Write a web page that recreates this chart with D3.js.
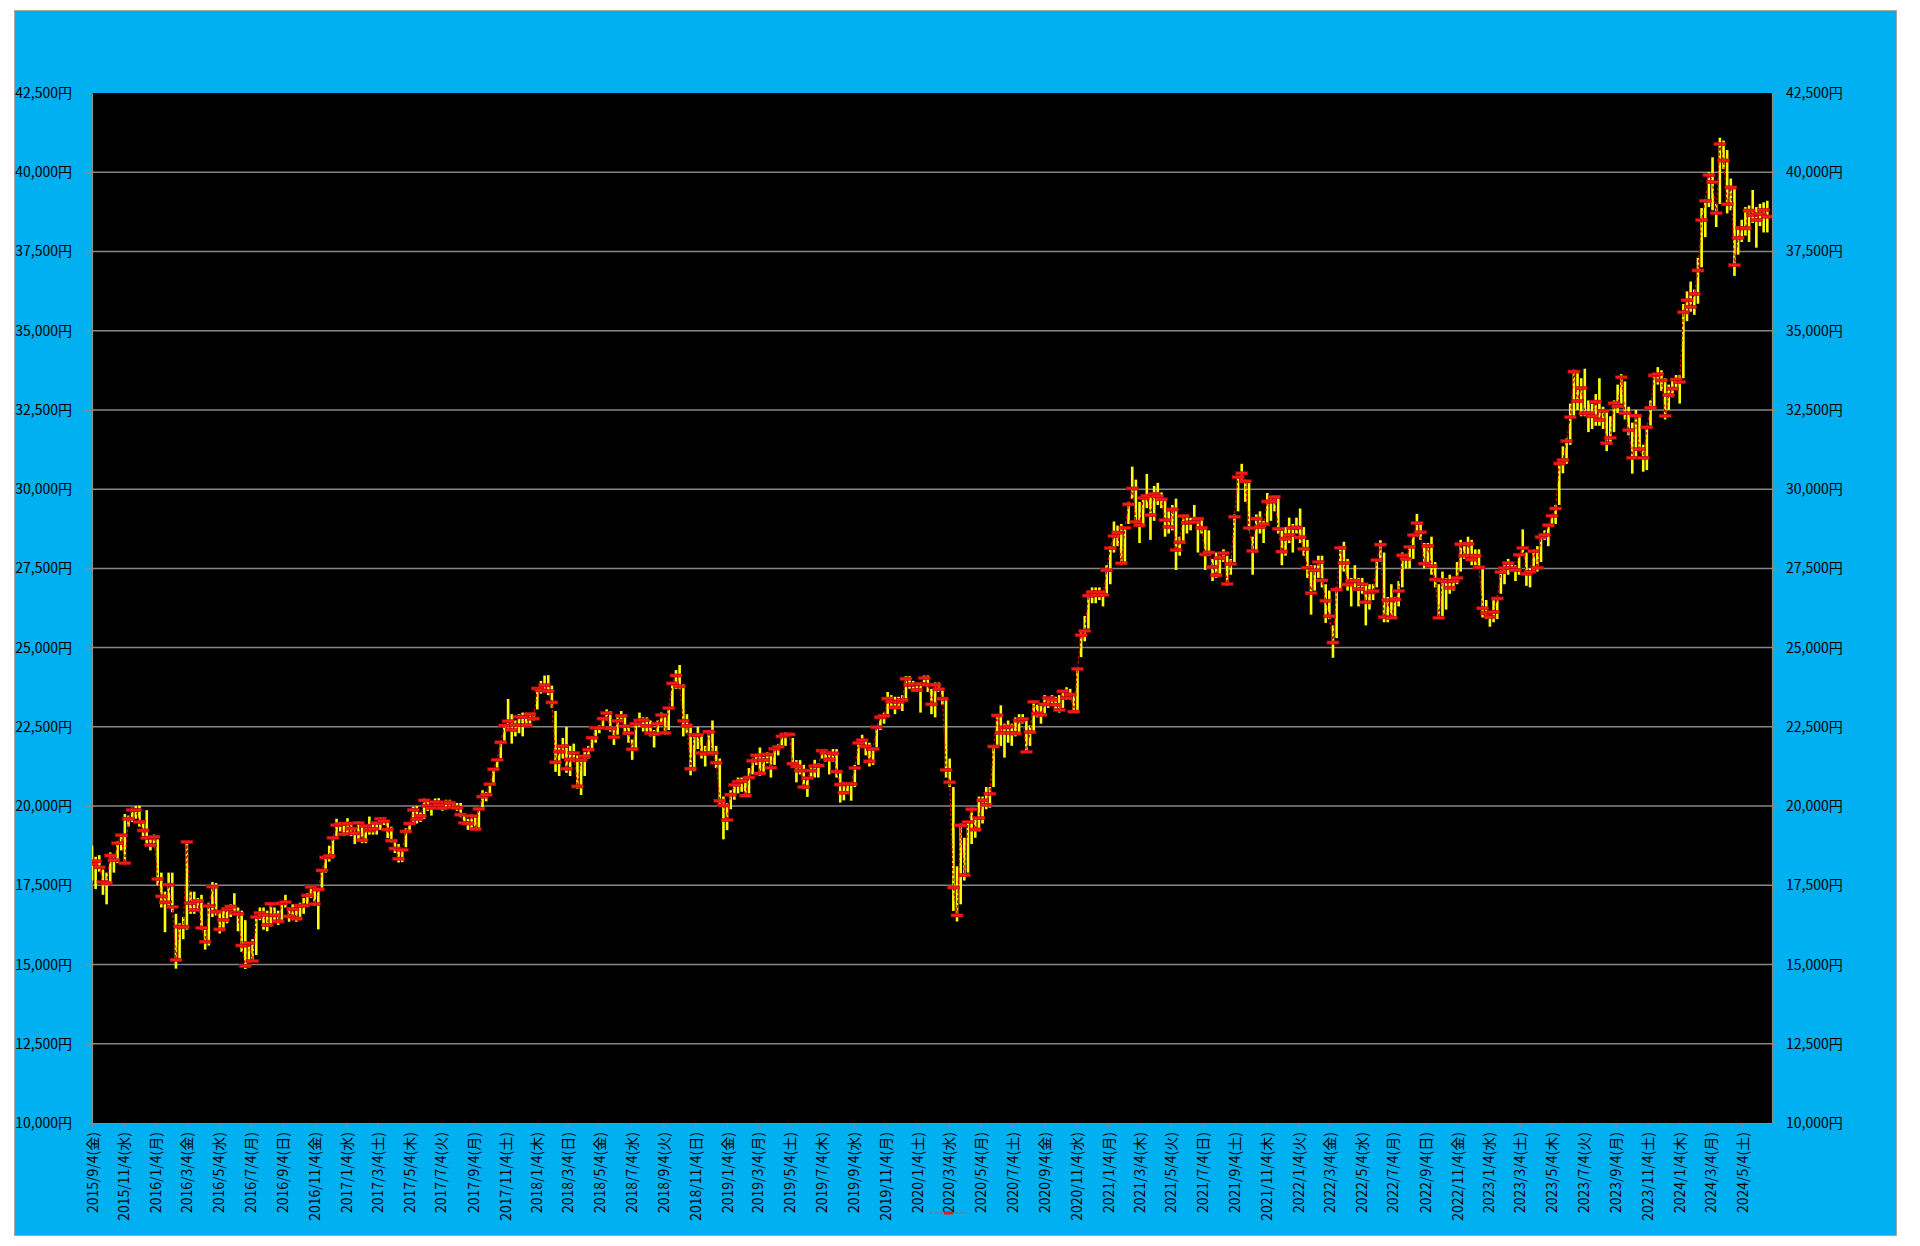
<!DOCTYPE html>
<html><head><meta charset="utf-8">
<script src="https://cdn.jsdelivr.net/npm/d3@7"></script>
<style>html,body{margin:0;padding:0;background:#fff;}svg{display:block;}</style>
</head><body>
<svg id="chart" width="1920" height="1246"></svg>
<script>
// ---- data (weekly, Fridays from 2015/9/4 to 2024/6/21) ----
const firstFriday = "2015-09-04";
const lastFriday = "2024-06-21";
const yTicks = [10000,12500,15000,17500,20000,22500,25000,27500,30000,32500,35000,37500,40000,42500];
const weekdayNames = ["日","月","火","水","木","金","土"];
const xTickStart = "2015-09-04", xTickEnd = "2024-05-04"; // every 2 months on the 4th

const closes = [
/*2015*/ 18180,18260,18070,17600,17560,18440,18290,18830,19080,18200,19600,19880,19880,19500,19230,18990,18770,
/*2016*/ 19030,17700,17150,16960,17520,16820,15150,16200,16190,18870,16940,16720,17000,16160,15720,16850,17460,16670,16110,16410,16740,16830,16640,16600,15600,14950,15680,15110,16500,16630,16570,16250,16920,16550,16360,16930,16970,16520,16750,16450,16860,16860,17180,17450,16910,17370,17970,18380,18430,19000,19400,19430,19110,
/*2017*/ 19450,19290,19140,19470,18920,19380,19230,19280,19470,19600,19520,19260,18910,18660,18340,18620,19200,19450,19880,19590,19690,20180,20010,19940,20130,20030,19930,20120,20100,19960,19950,19730,19470,19450,19690,19270,19910,20300,20360,20690,21160,21460,22010,22540,22680,22400,22550,22820,22810,22550,22900,22760,
/*2018*/ 23710,23650,23810,23630,23270,21380,21720,21890,21180,21470,21680,20620,21450,21570,21780,22160,22470,22470,22760,22930,22450,22170,22690,22850,22520,22300,21790,22600,22700,22710,22530,22300,22270,22600,22870,22310,23090,23870,24120,23780,22690,22530,21180,22240,22250,21680,21650,22350,21680,21370,20170,20020,
/*2019*/ 19560,20360,20670,20770,20790,20330,20900,21430,21600,21030,21450,21630,21210,21810,21870,22200,22260,22260,21340,21250,21120,20600,20880,21120,21260,21280,21750,21690,21470,21660,21090,20680,20420,20710,20700,21200,21990,22080,21880,21410,21800,22490,22800,22850,23390,23300,23110,23290,23350,24020,23820,23840,
/*2020*/ 23660,23850,24040,23830,23210,23830,23690,23390,21140,20750,17430,16550,19390,17820,19500,19900,19260,19620,20180,20040,20390,21880,22860,22310,22480,22510,22310,22290,22700,22750,21710,22330,23290,22920,22880,23210,23410,23360,23200,23030,23620,23410,23520,22980,24330,25390,25530,26640,26750,26650,26760,26660,
/*2021*/ 27440,28140,28520,28630,27660,28780,29520,30020,28970,28860,29720,29790,29180,29850,29770,29680,29020,28810,29360,28080,28320,29150,28940,28950,28960,29070,28780,27940,28000,27550,27280,27820,27980,27010,27640,29130,30380,30500,30250,28770,28050,29070,28800,28890,29610,29610,29750,28750,28030,28440,28550,28780,28790,
/*2022*/ 28480,28120,27520,26720,27440,27700,27120,26480,25990,25160,26830,28150,27670,26990,27090,27110,26850,27000,26430,26740,26780,27760,28250,25960,26490,25940,26520,26790,27910,27800,28180,28550,28930,28640,27650,28210,27570,27150,25940,27120,27090,26890,27110,27200,28260,27900,28280,27780,27900,27530,26240,26090,
/*2023*/ 25970,26120,26550,27380,27510,27670,27510,27450,27930,28140,27330,27390,28040,27520,28490,28560,28860,29160,29390,30810,30920,31520,32270,33710,32780,33190,32390,32390,32300,32760,32190,32470,31450,31620,32710,32610,33530,32400,31860,30990,32320,31260,30990,31950,32570,33590,33630,33430,32310,32970,33170,33460,
/*2024*/ 33380,35580,35960,35750,36160,36900,38490,39100,39910,39690,38710,40890,40370,38990,39520,37070,37930,38240,38230,38790,38650,38490,38680,38810,38600
];
const highs = [
/*2015*/ 18750,18400,18450,18000,17900,18540,18450,18900,19120,19750,19700,19950,20000,20010,19550,19870,19000,
/*2016*/ 19100,18950,17900,17300,17900,17900,16600,16300,16500,18900,17300,17300,17100,17200,16100,16950,17600,17570,16700,16800,16850,16900,17250,16800,16700,16400,15700,15800,16550,16800,16800,16700,16950,16800,16700,17000,17200,16800,16900,16800,16950,17100,17250,17500,17450,17400,18000,18450,18750,19050,19600,19500,19450,
/*2017*/ 19620,19450,19250,19520,19480,19400,19670,19450,19500,19650,19650,19550,19350,18950,18800,18650,19300,19500,19980,20000,19800,20240,20200,20050,20240,20250,20100,20200,20200,20100,20100,20100,19750,19600,19750,19650,19950,20500,20450,20710,21200,21500,22050,22550,23380,22900,22700,22900,22950,22950,22950,22950,
/*2018*/ 23730,23950,24120,24130,23800,23000,21900,22150,22500,21900,21970,21600,21500,21700,21900,22200,22500,22550,22800,23050,23000,22400,22850,23000,22900,22550,22100,22650,22950,22800,22800,22700,22400,22700,22950,22800,23100,23900,24290,24450,23850,22900,22600,22300,22500,22250,21900,22400,22700,21900,21500,20300,
/*2019*/ 20100,20500,20700,20900,20900,20900,21200,21500,21650,21850,21550,21700,21600,21850,21950,22280,22330,22300,22150,21450,21450,21300,20900,21260,21460,21350,21800,21750,21700,21800,21800,21100,20700,20750,20750,21300,22050,22250,22100,22000,21850,22500,22850,22950,23600,23500,23450,23450,23500,24100,24100,23950,
/*2020*/ 23900,23900,24120,24120,23700,23900,23900,23700,23400,21500,20600,18100,19450,19000,19520,19950,19600,20300,20300,20600,20600,21900,22900,23180,22600,22700,22600,22800,22900,22900,22700,22550,23340,23200,23250,23500,23450,23500,23450,23500,23650,23750,23700,23550,24350,25500,26000,26800,26900,26900,26900,26800,
/*2021*/ 27600,28200,28980,28850,28900,28800,29600,30710,30300,29600,29800,30480,29800,30100,30200,29900,29700,29300,29500,29700,28500,29200,29200,29100,29500,29100,29100,28800,28700,27800,28000,27900,28100,27900,27800,29200,30400,30800,30300,30200,28500,29200,29300,29000,29880,29700,29800,29800,28700,28800,29100,28900,29100,
/*2022*/ 29390,28800,28400,27600,27600,27900,27900,27000,26800,25700,26900,28200,28340,27800,27200,27600,27200,27200,27000,27000,27000,27800,28390,28000,26600,27000,26600,27100,28000,27900,28200,28600,29220,28900,28300,28300,28500,27700,27000,27400,27200,27300,27200,27700,28400,28200,28500,28400,28100,28100,27500,26500,
/*2023*/ 26000,26500,26600,27450,27600,27800,27700,27600,27950,28730,28000,27500,28100,28200,28500,28700,28900,29200,29500,30900,31350,31600,32700,33770,33700,33500,33800,32800,32700,33000,33500,32600,32500,32300,32800,33300,33630,33400,32600,32100,32500,32300,31400,32000,32800,33600,33850,33750,33500,33300,33500,33600,
/*2024*/ 33600,35840,36240,36550,36300,37300,38870,39160,40000,40470,39000,41090,41000,40700,39800,39500,38300,38500,38900,38950,39440,38900,39000,39050,39100
];
const lows = [
/*2015*/ 17650,17380,17930,17200,16900,17600,17900,18200,18600,18150,19350,19500,19600,19350,19050,18800,18600,
/*2016*/ 18700,17510,16800,16020,16800,16650,14870,15100,15800,16100,16600,16600,16700,16100,15470,15600,16500,16550,15980,16050,16300,16500,16550,16050,15400,14860,15050,15100,15300,16400,16100,16050,16200,16350,16250,16400,16800,16350,16400,16350,16400,16600,16850,17100,16850,16110,17350,17900,18250,18350,19000,19200,19050,
/*2017*/ 19100,19050,18800,18950,18830,18830,19100,19100,19100,19250,19400,18990,18850,18520,18220,18230,18700,19200,19500,19450,19500,19600,19850,19700,19900,19950,19850,19950,19950,19900,19850,19650,19450,19250,19300,19240,19250,19950,20150,20400,20700,21150,21500,22000,22400,21970,22200,22300,22200,22500,22600,22700,
/*2018*/ 23050,23550,23600,23500,23100,21080,20950,21500,21050,20950,21400,20550,20350,20950,21500,21800,22000,22300,22450,22700,22350,21930,22250,22650,22250,22000,21460,21800,22500,22350,22300,22200,21850,22250,22600,22250,22400,23100,23700,23700,22200,22300,20970,21100,21800,21500,21250,21650,21600,21200,20000,18950,
/*2019*/ 19240,19900,20200,20400,20450,20300,20400,21000,21300,20950,21000,21350,20900,21300,21600,21850,21900,22200,21300,20750,21000,20550,20290,20900,20900,20900,21500,21400,21000,21400,20900,20110,20180,20400,20170,20600,21300,21900,21600,21250,21300,21850,22400,22600,22900,23100,22900,23100,23000,23300,23700,23600,
/*2020*/ 23600,22950,23800,23600,22900,22800,23600,23200,20900,20600,16690,16360,16900,17650,17900,18800,19000,19200,19450,19900,19950,20600,21900,21900,21530,22000,21900,22200,22300,22600,21700,21900,22300,22800,22600,22900,23100,23200,23050,22950,23100,23350,23350,22950,23000,24700,25200,25600,26400,26400,26500,26300,
/*2021*/ 26700,27000,28000,28200,27600,27700,28900,29700,28900,28300,28800,29400,28400,29000,29500,29400,28500,28600,28700,27450,27900,28300,28600,28700,28900,28000,28600,27450,27900,27100,27200,27300,27700,26950,27300,27700,29300,30200,29600,28700,27300,28000,28600,28300,28900,29000,29300,28600,27600,27900,28300,28000,28600,
/*2022*/ 28300,27900,27200,26040,26800,27200,26900,25780,25900,24680,25300,26800,27400,26800,26300,26800,26300,26700,25700,26200,26500,26900,27700,25800,25800,25900,25900,26300,26900,27500,27500,27800,28500,28400,27500,27600,27300,26900,25900,26000,26200,26700,26800,27000,27400,27800,27900,27600,27600,27500,25950,25900,
/*2023*/ 25660,25800,25900,26700,27000,27300,27400,27100,27300,27900,26950,26900,27400,27400,27700,28400,28200,28800,28900,29500,30500,30800,31400,32300,32500,32300,32300,31800,31900,32000,32000,31900,31200,31400,31800,32400,32700,32200,31700,30490,31000,31200,30550,30600,32000,32500,33300,33100,32200,32500,32900,33200,
/*2024*/ 32700,33500,35300,35600,35500,35850,37000,37950,38900,38800,38270,39000,40100,38700,38800,36730,37400,37800,38000,37800,38400,37620,38300,38100,38100
];

// ---- layout ----
const W = 1920, H = 1246;
const plot = {left: 92, right: 1772, top: 93, bottom: 1123};
const FONT = '"Noto Sans CJK JP","Noto Sans",sans-serif';

const parse = d3.timeParse("%Y-%m-%d");
const weeks = d3.timeFriday.range(parse(firstFriday), d3.timeDay.offset(parse(lastFriday), 1));
const n = Math.min(weeks.length, closes.length, highs.length, lows.length);
const data = d3.range(n).map(i => ({date: weeks[i], c: closes[i], h: highs[i], l: lows[i]}));

const x = d3.scaleTime().domain([parse("2015-09-04"), parse("2024-06-30")]).range([plot.left, plot.right]);
const y = d3.scaleLinear().domain([10000, 42500]).range([plot.bottom, plot.top]);

const xTicks = [];
for (let d = parse(xTickStart); d <= parse(xTickEnd); d = d3.timeMonth.offset(d, 2)) xTicks.push(d);
const fmtX = d => `${d.getFullYear()}/${d.getMonth()+1}/${d.getDate()}(${weekdayNames[d.getDay()]})`;
const fmtY = v => d3.format(",")(v) + "円";

const svg = d3.select("#chart");
svg.append("rect").attr("x",0).attr("y",0).attr("width",W).attr("height",H).attr("fill","#ffffff");
svg.append("rect").attr("x",14.5).attr("y",10.5).attr("width",1882).attr("height",1225)
  .attr("fill","#00B0F0").attr("stroke","#A6A6A6").attr("stroke-width",1);
svg.append("rect").attr("x",plot.left).attr("y",plot.top).attr("width",plot.right-plot.left).attr("height",plot.bottom-plot.top)
  .attr("fill","#000000");

// gridlines
svg.append("g").selectAll("line").data(yTicks.filter(v => v > 10000 && v < 42500)).join("line")
  .attr("x1",plot.left).attr("x2",plot.right).attr("y1",d=>y(d)).attr("y2",d=>y(d))
  .attr("stroke","#868686").attr("stroke-width",1.5);

// axes
function styleAxis(g){
  g.selectAll(".domain").attr("stroke","#8C8C8C").attr("stroke-width",1.2);
  g.selectAll(".tick line").attr("stroke","#8C8C8C").attr("stroke-width",1.2);
  g.selectAll("text").attr("fill","#000").style("font-family",FONT).style("font-size","14px");
}
const gL = svg.append("g").attr("transform",`translate(${plot.left},0)`)
  .call(d3.axisLeft(y).tickValues(yTicks).tickFormat(fmtY).tickSize(6).tickPadding(14).tickSizeOuter(0));
styleAxis(gL);
const gR = svg.append("g").attr("transform",`translate(${plot.right},0)`)
  .call(d3.axisRight(y).tickValues(yTicks).tickFormat(fmtY).tickSize(5).tickPadding(9).tickSizeOuter(0));
styleAxis(gR);
const gB = svg.append("g").attr("transform",`translate(0,${plot.bottom})`)
  .call(d3.axisBottom(x).tickValues(xTicks).tickFormat(fmtX).tickSize(5).tickSizeOuter(0));
styleAxis(gB);
gB.selectAll(".tick text").attr("transform","rotate(-90)").attr("text-anchor","end")
  .attr("x",-9).attr("y",0).attr("dy","0.36em");

// high-low bars
const clip = svg.append("clipPath").attr("id","pc").append("rect")
  .attr("x",plot.left).attr("y",plot.top).attr("width",plot.right-plot.left).attr("height",plot.bottom-plot.top);
const gP = svg.append("g").attr("clip-path","url(#pc)");
gP.append("g").selectAll("line").data(data).join("line")
  .attr("x1",d=>x(d.date)).attr("x2",d=>x(d.date))
  .attr("y1",d=>y(d.l)).attr("y2",d=>y(d.h))
  .attr("stroke","#FFFF00").attr("stroke-width",2.6);

// close line (dashed) + dash markers
gP.append("path").datum(data)
  .attr("d", d3.line().x(d=>x(d.date)).y(d=>y(d.c)))
  .attr("fill","none").attr("stroke","#D40000").attr("stroke-width",1.2).attr("stroke-dasharray","3,2");
gP.append("g").selectAll("rect").data(data).join("rect")
  .attr("x",d=>x(d.date)-6).attr("y",d=>y(d.c)-1.6).attr("width",12).attr("height",3.2)
  .attr("fill","#F01A1A").attr("stroke","#A80000").attr("stroke-width",0.5);

// small legend remnant under the axis
svg.append("line").attr("x1",930).attr("x2",967).attr("y1",1213).attr("y2",1213)
  .attr("stroke","#C0504D").attr("stroke-width",1.2).attr("stroke-dasharray","3,2");
svg.append("rect").attr("x",944).attr("y",1211.5).attr("width",9).attr("height",3).attr("fill","#D42020");
</script>
</body></html>
